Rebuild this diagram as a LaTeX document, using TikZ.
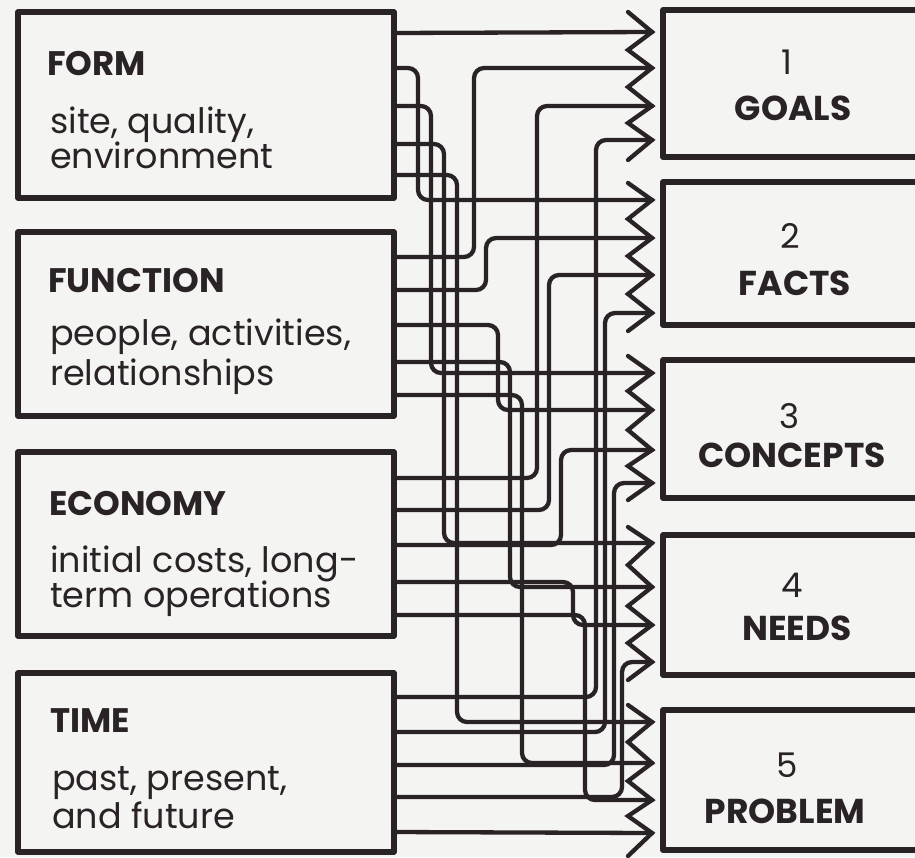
\documentclass[tikz,border=0pt]{standalone}
\usepackage{fontspec}
\setmainfont{Poppins}
\definecolor{ink}{HTML}{2A2325}
\definecolor{paper}{HTML}{F4F4F2}
\begin{document}
\begin{tikzpicture}[x=1pt,y=-1pt,
  box/.style={draw=ink, line width=5.5pt, inner sep=0pt, line join=round},
  conn/.style={draw=ink, line width=4.3pt, rounded corners=10pt, line cap=round, line join=round},
  zig/.style={draw=ink, line width=4.3pt, line join=miter, line cap=round},
  head/.style={font=\bfseries\fontsize{34}{36}\selectfont, anchor=base west, inner sep=0pt, text=ink},
  body/.style={font=\fontsize{35}{36}\selectfont, anchor=base west, inner sep=0pt, text=ink},
  rnum/.style={font=\fontsize{34}{36}\selectfont, anchor=base, inner sep=0pt, text=ink},
  rhead/.style={font=\bfseries\fontsize{34.5}{36}\selectfont, anchor=base, inner sep=0pt, text=ink}]
\fill[paper] (0,0) rectangle (915,857);
\clip (0,0) rectangle (915,857);

% left boxes
\node[box, minimum width=376pt, minimum height=186pt] (form) at (206,105) {};
\node[box, minimum width=376pt, minimum height=184pt] (func) at (206,324) {};
\node[box, minimum width=376pt, minimum height=184pt] (econ) at (206,544) {};
\node[box, minimum width=376pt, minimum height=179pt] (time) at (206,762.5) {};

% right boxes
\node[box, minimum width=277pt, minimum height=147pt] (goals) at (801.5,83.5) {};
\node[box, minimum width=277pt, minimum height=143pt] (facts) at (801.5,253.5) {};
\node[box, minimum width=277pt, minimum height=138pt] (concepts) at (801.5,429) {};
\node[box, minimum width=277pt, minimum height=140pt] (needs) at (801.5,605) {};
\node[box, minimum width=277pt, minimum height=140pt] (problem) at (801.5,780) {};

% left texts
\node[head] (t-form) at (47,75) {FORM};
\node[body] (b-form1) at (50,133) {site, quality,};
\node[body] (b-form2) at (50,168) {environment};
\node[head] (t-func) at (48,292) {FUNCTION};
\node[body] (b-func1) at (50,345) {people, activities,};
\node[body] (b-func2) at (50,385) {relationships};
\node[head] (t-econ) at (49,515) {ECONOMY};
\node[body] (b-econ1) at (50,572) {initial costs, long-};
\node[body] (b-econ2) at (50,607) {term operations};
\node[head] (t-time) at (50,732) {TIME};
\node[body] (b-time1) at (52,790) {past, present,};
\node[body] (b-time2) at (52,828) {and future};

% right texts
\node[rnum] (n1) at (787,74) {1};
\node[rhead] (h1) at (793,120) {GOALS};
\node[rnum] (n2) at (790,248) {2};
\node[rhead] (h2) at (795,295) {FACTS};
\node[rnum] (n3) at (790,428) {3};
\node[rhead] (h3) at (792,467) {CONCEPTS};
\node[rnum] (n4) at (792,597) {4};
\node[rhead] (h4) at (797,640) {NEEDS};
\node[rnum] (n5) at (787,777) {5};
\node[rhead] (h5) at (785,823) {PROBLEM};

% ports
\foreach \nm/\ys in {form/{33,68,106,144,175}, func/{257,290,325,362,395},
                     econ/{478,510,545,582,615}, time/{697,732,765,797,832}}{
  \foreach \yy [count=\i] in \ys { \coordinate (\nm-\i) at (394,\yy); }
}
\foreach \nm/\ys in {goals/{32,68,106,140}, facts/{200,238,275,313},
                     concepts/{373,410,450,483}, needs/{543,587,625,662},
                     problem/{722,763,800,833}}{
  \foreach \yy [count=\i] in \ys { \coordinate (\nm-\i) at (652,\yy); }
}

% zigzag arrowheads
\draw[zig] (628,12) -- (goals-1) -- (628,50) -- (goals-2) -- (628,87) -- (goals-3) -- (628,123) -- (goals-4) -- (628,160);
\draw[zig] (628,183) -- (facts-1) -- (628,219) -- (facts-2) -- (628,256) -- (facts-3) -- (628,294) -- (facts-4) -- (628,331);
\draw[zig] (628,356) -- (concepts-1) -- (628,391) -- (concepts-2) -- (628,430) -- (concepts-3) -- (628,466) -- (concepts-4) -- (628,500);
\draw[zig] (628,527) -- (needs-1) -- (628,565) -- (needs-2) -- (628,606) -- (needs-3) -- (628,643) -- (needs-4) -- (628,680);
\draw[zig] (628,705) -- (problem-1) -- (628,742) -- (problem-2) -- (628,781) -- (problem-3) -- (628,816) -- (problem-4) -- (628,856);

% connectors
\draw[conn] (form-1) -- (goals-1);
\draw[conn] (time-5) -- (problem-4);
\foreach \a/\b/\c in {form-2/facts-1/418, form-3/concepts-1/431, form-4/needs-1/444, form-5/problem-1/457,
                      func-1/goals-2/474, func-2/facts-2/486, func-3/concepts-2/498, func-4/needs-2/510, func-5/problem-2/522,
                      econ-1/goals-3/537, econ-2/facts-3/549, econ-3/concepts-3/561, econ-4/needs-3/573, econ-5/problem-3/585,
                      time-1/goals-4/596, time-2/facts-4/605, time-3/concepts-4/614, time-4/needs-4/622}{
  \coordinate (ch) at (\c,0);
  \draw[conn] (\a) -- (\a -| ch) |- (\b);
}
\end{tikzpicture}
\end{document}
